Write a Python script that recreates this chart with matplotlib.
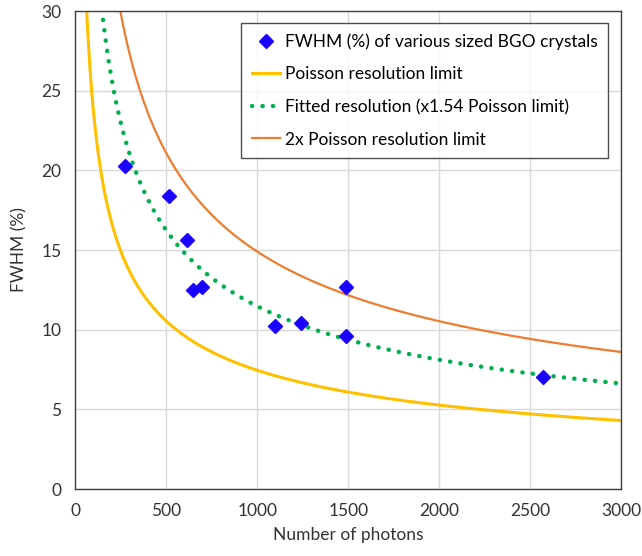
import numpy as np
import matplotlib
matplotlib.use("Agg")
import matplotlib.pyplot as plt

plt.rcParams['font.family'] = ['Lato', 'DejaVu Sans']

# measured crystals
photons = [274, 512, 611, 647, 697, 1097, 1242, 1488, 1488, 2570]
fwhm = [20.25, 18.4, 15.6, 12.48, 12.69, 10.23, 10.4, 12.69, 9.58, 7.0]

# model curves: FWHM(%) = k * 2.355 / sqrt(N) * 100
poisson_const = 235.5
fit_factor = 1.54
double_factor = 2.0

x_ticks = [0, 500, 1000, 1500, 2000, 2500, 3000]
y_ticks = [0, 5, 10, 15, 20, 25, 30]

fig = plt.figure(figsize=(6.42, 5.56), dpi=100)
ax = fig.add_axes([0.1176, 0.1205, 0.8497, 0.8597])

n = np.linspace(20, 3000, 2000)
poisson = poisson_const / np.sqrt(n)

ax.plot(photons, fwhm, linestyle='none', marker='D', markersize=7.5,
        color='#1A00FF', label='FWHM (%) of various sized BGO crystals', zorder=5)
ax.plot(n, poisson, color='#FFC000', lw=2.2, label='Poisson resolution limit')
ax.plot(n, fit_factor * poisson, color='#00B050', lw=3.2, linestyle=(0, (0.05, 2.3)),
        dash_capstyle='round', label='Fitted resolution (x1.54 Poisson limit)')
ax.plot(n, double_factor * poisson, color='#ED7D31', lw=1.6, label='2x Poisson resolution limit')

ax.set_xlim(0, 3000)
ax.set_ylim(0, 30)
ax.set_xticks(x_ticks)
ax.set_yticks(y_ticks)
ax.tick_params(length=0, labelsize=12.5, colors='#333333', pad=10)
ax.grid(color='#D9D9D9', lw=1)
ax.set_axisbelow(True)
for s in ax.spines.values():
    s.set_color('#404040')
    s.set_linewidth(1)

ax.set_xlabel('Number of photons', fontsize=12.5, color='#333333', labelpad=6)
ax.set_ylabel('FWHM (%)', fontsize=12.5, color='#333333', labelpad=10)

leg = ax.legend(loc='upper right', bbox_to_anchor=(0.976, 0.975), borderaxespad=0,
                fontsize=12.5, frameon=True, fancybox=False, edgecolor='#202020',
                handlelength=1.6, handletextpad=0.3, labelspacing=0.95, borderpad=0.6)
leg.get_frame().set_linewidth(1)

fig.savefig('out.png', dpi=100)
